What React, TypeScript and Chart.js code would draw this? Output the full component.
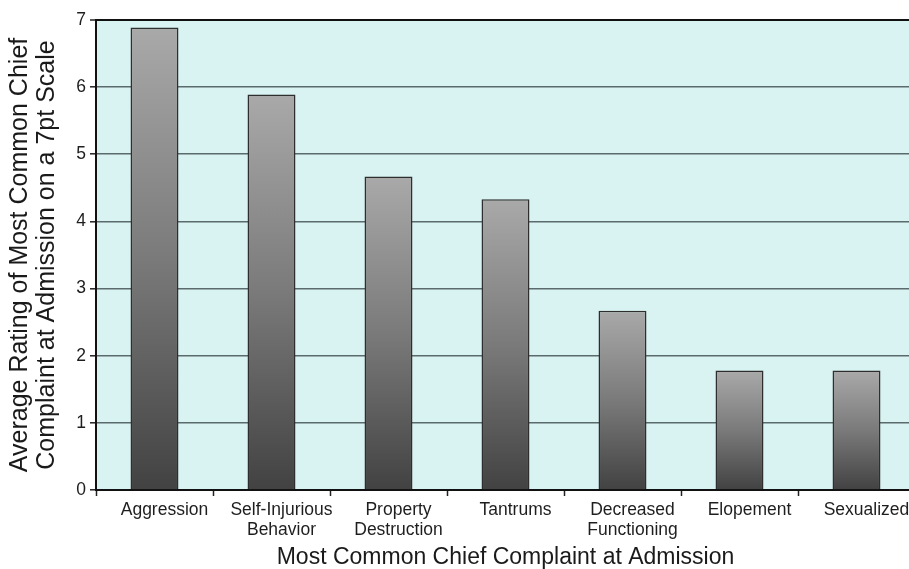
import React, { useEffect, useRef } from "react";
import { Chart, registerables } from "chart.js";

Chart.register(...registerables);

// Complaint categories (multi-line labels as drawn under the axis)
const categories: (string | string[])[] = [
  "Aggression",
  ["Self-Injurious", "Behavior"],
  ["Property", "Destruction"],
  "Tantrums",
  ["Decreased", "Functioning"],
  "Elopement",
  "Sexualized",
];

// Average rating on the 7-point scale
const ratings: number[] = [6.89, 5.89, 4.67, 4.33, 2.67, 1.78, 1.78];

const yTitleLines: string[] = [
  "Average Rating of Most Common Chief",
  "Complaint at Admission on a 7pt Scale",
];
const xTitle = "Most Common Chief Complaint at Admission";

const FONT = "'Liberation Sans', Arial, Helvetica, sans-serif";

// Fills the plotting area with the pale cyan backdrop
const plotBackground = {
  id: "plotBackground",
  beforeDraw(chart: Chart) {
    const { ctx, chartArea } = chart;
    if (!chartArea) return;
    ctx.save();
    ctx.fillStyle = "#d8f3f2";
    ctx.fillRect(
      chartArea.left,
      chartArea.top,
      chartArea.right - chartArea.left,
      chartArea.bottom - chartArea.top
    );
    ctx.restore();
  },
};

export default function App() {
  const canvasRef = useRef<HTMLCanvasElement | null>(null);

  useEffect(() => {
    const canvas = canvasRef.current;
    if (!canvas) return;

    const chart = new Chart(canvas, {
      type: "bar",
      data: {
        labels: categories,
        datasets: [
          {
            data: ratings,
            // each bar shades from light grey at its top to dark grey at the base
            backgroundColor: (ctx: any) => {
              const c = ctx.chart;
              const y = c.scales && c.scales.y;
              if (!y || ctx.type !== "data") return "#777777";
              const top = y.getPixelForValue(ctx.raw);
              const base = y.getPixelForValue(0);
              if (!isFinite(top) || !isFinite(base)) return "#777777";
              const g = c.ctx.createLinearGradient(0, top, 0, base);
              g.addColorStop(0, "#a9a9a9");
              g.addColorStop(0.5, "#7a7a7a");
              g.addColorStop(1, "#424242");
              return g;
            },
            borderColor: "#2e2e2e",
            borderWidth: 1.5,
            barPercentage: 0.41,
            categoryPercentage: 1,
          },
        ],
      },
      options: {
        responsive: false,
        animation: false,
        devicePixelRatio: 1,
        layout: { padding: { top: 20, left: 0, right: 0, bottom: 0 } },
        plugins: {
          legend: { display: false },
          tooltip: { enabled: false },
        },
        scales: {
          x: {
            offset: true,
            afterFit: (scale: any) => {
              scale.height = 79;
            },
            grid: {
              display: true,
              drawOnChartArea: false,
              drawTicks: true,
              tickLength: 6,
              tickColor: "#222222",
              tickWidth: 1.5,
              offset: true,
            },
            border: { display: true, color: "#111111", width: 2 },
            ticks: {
              autoSkip: false,
              maxRotation: 0,
              minRotation: 0,
              padding: 5,
              labelOffset: 10,
              color: "#1e1e1e",
              font: { family: FONT, size: 17.5, lineHeight: 1.1 },
            },
            title: {
              display: true,
              text: xTitle,
              color: "#1a1a1a",
              padding: 0,
              font: { family: FONT, size: 23, lineHeight: 1 },
            },
          },
          y: {
            min: 0,
            max: 7,
            afterFit: (scale: any) => {
              scale.width = 96;
            },
            grid: {
              color: (ctx: any) =>
                ctx.tick && ctx.tick.value === 7 ? "#111111" : "#5b6b6b",
              lineWidth: (ctx: any) =>
                ctx.tick && ctx.tick.value === 7 ? 2 : 1.6,
              drawTicks: true,
              tickLength: 6,
              tickColor: "#222222",
              tickWidth: 1.5,
            },
            border: { display: true, color: "#111111", width: 2 },
            ticks: {
              stepSize: 1,
              padding: 4,
              color: "#1e1e1e",
              font: { family: FONT, size: 17.5 },
            },
            title: {
              display: true,
              text: yTitleLines,
              color: "#1a1a1a",
              padding: { top: 7, bottom: 0 },
              font: { family: FONT, size: 25, lineHeight: 1.08 },
            },
          },
        },
      },
      plugins: [plotBackground],
    });

    return () => {
      chart.destroy();
    };
  }, []);

  return (
    <div
      style={{
        position: "fixed",
        left: 0,
        top: 0,
        width: 915,
        height: 569,
        background: "#ffffff",
      }}
    >
      <canvas
        ref={canvasRef}
        width={915}
        height={569}
        style={{ display: "block", width: 915, height: 569 }}
      />
    </div>
  );
}
